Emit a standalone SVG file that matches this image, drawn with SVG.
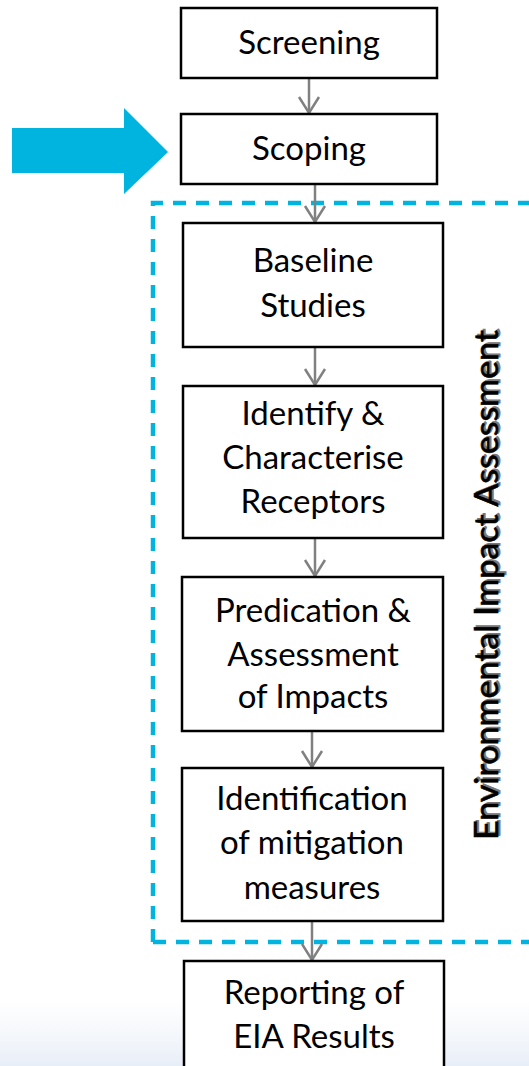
<svg xmlns="http://www.w3.org/2000/svg" width="529" height="1066" viewBox="0 0 529 1066">
<defs>
<style>
.box{fill:#fff;stroke:#000;stroke-width:2.5}
.t{font-family:Lato,"Liberation Sans",sans-serif;font-size:33px;fill:#000;text-anchor:middle}
.conn{stroke:#808080;stroke-width:2.5;fill:none}
.head{stroke:#808080;stroke-width:2.5;fill:none;stroke-linejoin:miter}
.vt{font-family:Lato,"Liberation Sans",sans-serif;font-size:32px}
</style>
<linearGradient id="bg" x1="0" y1="0" x2="0" y2="1">
<stop offset="0" stop-color="#eef2f8" stop-opacity="0"/>
<stop offset="1" stop-color="#e8eef8" stop-opacity="1"/>
</linearGradient>
</defs>
<rect width="529" height="1066" fill="#fff"/>
<rect x="0" y="1000" width="529" height="66" fill="url(#bg)"/>

<g id="big-arrow">
<polygon points="12,128 124,128 124,108 168,152 124,194 124,173 12,173" fill="#00B4E0"/>
</g>

<g id="eia-frame">
<path d="M153,942 L153,203 L529,203 M153,942 L529,942" fill="none" stroke="#00B4E0" stroke-width="4.5" stroke-dasharray="13,10"/>
<g transform="translate(498,840) rotate(-90)">
<text class="vt" x="1.5" y="1.5" fill="#777" stroke="#777" stroke-width="0.8" textLength="510" lengthAdjust="spacingAndGlyphs">Environmental Impact Assessment</text>
<text class="vt" x="0" y="0" fill="#000" stroke="#000" stroke-width="0.6" textLength="510" lengthAdjust="spacingAndGlyphs">Environmental Impact Assessment</text>
</g>
</g>

<g id="connectors">
<line class="conn" x1="309" y1="78" x2="309" y2="113"/>
<polyline class="head" points="299,97 309,113 319,97"/>
<line class="conn" x1="315" y1="184" x2="315" y2="222"/>
<polyline class="head" points="305,206 315,222 325,206"/>
<line class="conn" x1="315" y1="347" x2="315" y2="385"/>
<polyline class="head" points="305,369 315,385 325,369"/>
<line class="conn" x1="315" y1="538" x2="315" y2="576"/>
<polyline class="head" points="305,560 315,576 325,560"/>
<line class="conn" x1="312" y1="731" x2="312" y2="767"/>
<polyline class="head" points="302,751 312,767 322,751"/>
<line class="conn" x1="312" y1="921" x2="312" y2="960"/>
<polyline class="head" points="302,944 312,960 322,944"/>
</g>

<g id="screening">
<rect class="box" x="181" y="8" width="256" height="70"/>
<text class="t" x="309" y="54">Screening</text>
</g>
<g id="scoping">
<rect class="box" x="181" y="114" width="256" height="70"/>
<text class="t" x="309" y="160">Scoping</text>
</g>
<g id="baseline">
<rect class="box" x="183" y="223" width="260" height="124"/>
<text class="t" x="313" y="272">Baseline</text>
<text class="t" x="313" y="317">Studies</text>
</g>
<g id="identify">
<rect class="box" x="183" y="386" width="260" height="152"/>
<text class="t" x="313" y="425">Identify &amp;</text>
<text class="t" x="313" y="469">Characterise</text>
<text class="t" x="313" y="513">Receptors</text>
</g>
<g id="predication">
<rect class="box" x="182" y="577" width="261" height="154"/>
<text class="t" x="313" y="622">Predication &amp;</text>
<text class="t" x="313" y="666">Assessment</text>
<text class="t" x="313" y="708">of Impacts</text>
</g>
<g id="mitigation">
<rect class="box" x="182" y="768" width="261" height="153"/>
<text class="t" x="312" y="810">Identification</text>
<text class="t" x="312" y="854">of mitigation</text>
<text class="t" x="312" y="899">measures</text>
</g>
<g id="reporting">
<rect class="box" x="184" y="961" width="260" height="120"/>
<text class="t" x="314" y="1004">Reporting of</text>
<text class="t" x="314" y="1048">EIA Results</text>
</g>
</svg>
